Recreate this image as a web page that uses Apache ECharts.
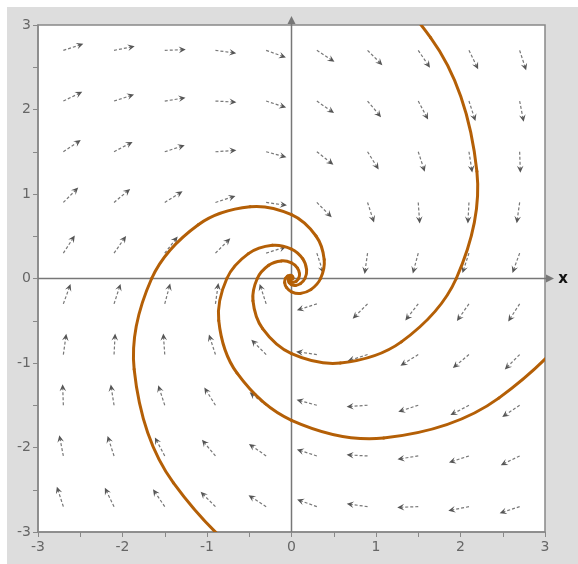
<!DOCTYPE html>
<html>
<head>
<meta charset="utf-8">
<script src="https://cdn.jsdelivr.net/npm/echarts@6.0.0/dist/echarts.min.js"></script>
<style>
html, body { margin: 0; padding: 0; background: #fff; }
#chart { width: 578px; height: 564px; }
</style>
</head>
<body>
<div id="chart"></div>
<script>
// direction field sample points
const fieldX = [-2.7, -2.1, -1.5, -0.9, -0.3, 0.3, 0.9, 1.5, 2.1, 2.7];
const fieldY = [2.7, 2.1, 1.5, 0.9, 0.3, -0.3, -0.9, -1.5, -2.1, -2.7];
// arrow direction in degrees (counter-clockwise from +x), one row per fieldY value
const fieldAngle = [
    [18, 11, 2, -8, -20, -33, -45, -56, -64, -72],
    [26, 18, 9, -3, -18, -35, -50, -62, -72, -79],
    [34, 28, 18, 4, -15, -38, -58, -72, -81, -88],
    [45, 40, 32, 18, -8, -45, -72, -86, -93, -98],
    [57, 55, 52, 45, 18, -72, -98, -105, -108, -110],
    [70, 72, 75, 82, 108, -162, -135, -128, -125, -123],
    [82, 87, 94, 108, 135, 172, -162, -148, -140, -135],
    [92, 99, 108, 122, 142, 165, -176, -162, -152, -146],
    [101, 108, 118, 130, 145, 162, 177, -171, -162, -154],
    [108, 116, 124, 135, 147, 160, 172, -178, -169, -162]
];

// solution curves (spiralling into the origin)
const curveA = [[-2.778, 4.812], [0, 4.277], [1.646, 2.851], [2.194, 1.267], [1.95, 0], [1.300, -0.750],
    [0.578, -1.000], [0, -0.889], [-0.342, -0.593], [-0.456, -0.263], [-0.405, 0], [-0.270, 0.156],
    [-0.120, 0.208], [0, 0.185], [0.071, 0.123], [0.095, 0.055], [0.084, 0], [0.056, -0.032],
    [0.025, -0.043], [0, -0.038], [-0.015, -0.026], [-0.020, -0.011], [-0.018, 0], [0, 0]];
const curveB = [[4.141, 2.391], [3.68, 0], [2.453, -1.416], [1.090, -1.888], [0, -1.678], [-0.646, -1.118],
    [-0.861, -0.497], [-0.765, 0], [-0.510, 0.294], [-0.227, 0.393], [0, 0.349], [0.134, 0.233],
    [0.179, 0.103], [0.159, 0], [0.106, -0.061], [0.047, -0.082], [0, -0.073], [-0.028, -0.048],
    [-0.037, -0.022], [-0.033, 0], [-0.022, 0.013], [-0.010, 0.017], [0, 0.015], [0, 0]];
const curveC = [[2.358, -4.084], [0, -3.629], [-1.397, -2.419], [-1.862, -1.075], [-1.655, 0], [-1.103, 0.637],
    [-0.490, 0.849], [0, 0.755], [0.290, 0.503], [0.387, 0.224], [0.344, 0], [0.229, -0.132],
    [0.102, -0.177], [0, -0.157], [-0.060, -0.105], [-0.081, -0.047], [-0.072, 0], [-0.048, 0.028],
    [-0.021, 0.037], [0, 0.033], [0.013, 0.022], [0.017, 0.010], [0.015, 0], [0, 0]];

const axisMin = -3;
const axisMax = 3;

let arrowData = [];
fieldY.forEach((y, j) => {
    fieldX.forEach((x, i) => {
        arrowData.push([x, y, fieldAngle[j][i]]);
    });
});

const curveColor = '#b45f06';

function renderArrow(params, api) {
    let p = api.coord([api.value(0), api.value(1)]);
    let a = api.value(2) * Math.PI / 180;
    let ux = Math.cos(a), uy = -Math.sin(a);
    let len = 21, head = 7, half = 3.3;
    let tip = [p[0] + ux * len, p[1] + uy * len];
    let base = [tip[0] - ux * head, tip[1] - uy * head];
    let notch = [tip[0] - ux * head * 0.6, tip[1] - uy * head * 0.6];
    return {
        type: 'group',
        children: [
            {
                type: 'line',
                shape: { x1: p[0], y1: p[1], x2: notch[0], y2: notch[1] },
                style: { stroke: '#777', lineWidth: 1.2, lineDash: [3, 2] }
            },
            {
                type: 'polygon',
                shape: { points: [tip, [base[0] - uy * half, base[1] + ux * half], notch, [base[0] + uy * half, base[1] - ux * half]] },
                style: { fill: '#555' }
            }
        ]
    };
}

// one smooth segment of a solution curve, control points from the neighbouring points
function curveRenderer(curve) {
    return function (params, api) {
        let i = params.dataIndex;
        if (i >= curve.length - 1) {
            return null;
        }
        let p0 = api.coord(curve[Math.max(i - 1, 0)]);
        let p1 = api.coord(curve[i]);
        let p2 = api.coord(curve[i + 1]);
        let p3 = api.coord(curve[Math.min(i + 2, curve.length - 1)]);
        return {
            type: 'bezierCurve',
            shape: {
                x1: p1[0], y1: p1[1], x2: p2[0], y2: p2[1],
                cpx1: p1[0] + (p2[0] - p0[0]) / 6, cpy1: p1[1] + (p2[1] - p0[1]) / 6,
                cpx2: p2[0] - (p3[0] - p1[0]) / 6, cpy2: p2[1] - (p3[1] - p1[1]) / 6
            },
            style: { stroke: curveColor, lineWidth: 3, fill: null, lineCap: 'round' }
        };
    };
}

// the two axes through the origin, with arrow heads
function renderCrossAxes(params, api) {
    let o = api.coord([0, 0]);
    let left = api.coord([axisMin, 0]);
    let right = api.coord([axisMax, 0]);
    let bottom = api.coord([0, axisMin]);
    let top = api.coord([0, axisMax]);
    let stroke = { stroke: '#777', lineWidth: 1.5 };
    return {
        type: 'group',
        children: [
            { type: 'line', shape: { x1: left[0], y1: o[1], x2: right[0] + 2, y2: o[1] }, style: stroke },
            { type: 'line', shape: { x1: o[0], y1: bottom[1], x2: o[0], y2: top[1] - 2 }, style: stroke },
            {
                type: 'polygon',
                shape: { points: [[right[0] + 1, o[1] - 4], [right[0] + 9, o[1]], [right[0] + 1, o[1] + 4]] },
                style: { fill: '#777' }
            },
            {
                type: 'polygon',
                shape: { points: [[o[0] - 4, top[1] - 1], [o[0], top[1] - 9], [o[0] + 4, top[1] - 1]] },
                style: { fill: '#777' }
            },
            {
                type: 'text',
                style: {
                    x: right[0] + 18, y: o[1] + 1, text: 'x', fill: '#111',
                    font: 'bold 15px "DejaVu Sans"', align: 'center', verticalAlign: 'middle'
                }
            }
        ]
    };
}

const axisCommon = {
    type: 'value',
    min: axisMin,
    max: axisMax,
    interval: 1,
    splitLine: { show: false },
    axisLine: { show: true, onZero: false, lineStyle: { color: '#888', width: 1.5 } },
    axisTick: { show: true, length: 5, lineStyle: { color: '#888' } },
    minorTick: { show: true, splitNumber: 2, length: 5, lineStyle: { color: '#888' } },
    axisLabel: { color: '#666', fontSize: 14, fontFamily: 'DejaVu Sans' }
};

function curveSeries(curve) {
    return {
        type: 'custom', z: 3, silent: true, clip: true,
        renderItem: curveRenderer(curve),
        data: curve
    };
}

const chart = echarts.init(document.getElementById('chart'));
chart.setOption({
    animation: false,
    graphic: [{
        type: 'rect', z: -100, silent: true,
        shape: { x: 7, y: 7, width: 571, height: 557 },
        style: { fill: '#dddddd' }
    }],
    grid: {
        left: 38, top: 25, width: 507, height: 507,
        show: true, backgroundColor: '#fff', borderColor: '#888', borderWidth: 1.5
    },
    xAxis: Object.assign({}, axisCommon, { axisLabel: Object.assign({}, axisCommon.axisLabel, { margin: 8 }) }),
    yAxis: Object.assign({}, axisCommon, { axisLabel: Object.assign({}, axisCommon.axisLabel, { margin: 7 }) }),
    series: [
        {
            type: 'custom', z: 1, silent: true,
            renderItem: renderCrossAxes,
            data: [[0, 0]]
        },
        {
            type: 'custom', z: 2, silent: true,
            renderItem: renderArrow,
            data: arrowData
        },
        curveSeries(curveA),
        curveSeries(curveB),
        curveSeries(curveC)
    ]
});
</script>
</body>
</html>
